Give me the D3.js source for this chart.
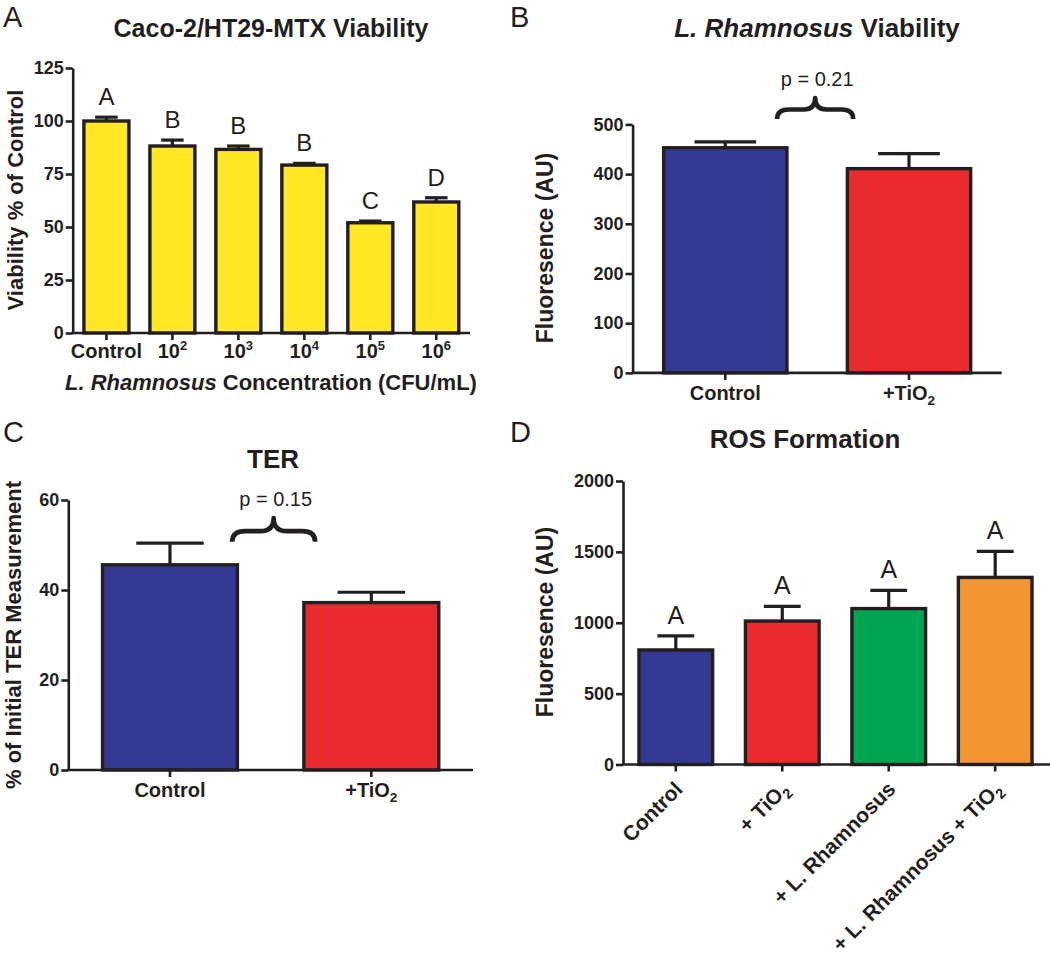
<!DOCTYPE html>
<html><head><meta charset="utf-8">
<script src="https://cdn.jsdelivr.net/npm/d3@7"></script>
<style>body{margin:0;background:#fff} svg{display:block}</style>
</head><body><svg id="chart" width="1050" height="956"></svg>
<script>
// ---------- DATA ----------
const aCategories = ["Control", "10^2", "10^3", "10^4", "10^5", "10^6"];
const aTickBase = ["Control", "10", "10", "10", "10", "10"];
const aTickSup = ["", "2", "3", "4", "5", "6"];
const aMeans = [100, 88.2, 86.6, 79.2, 52.0, 61.8];
const aErrors = [1.8, 2.8, 1.6, 0.8, 0.8, 2.0];
const aLetters = ["A", "B", "B", "B", "C", "D"];
const aTicks = [0, 25, 50, 75, 100, 125];

const bCategories = ["Control", "+TiO2"];
const bMeans = [453, 411];
const bErrors = [12, 30];
const bTicks = [0, 100, 200, 300, 400, 500];
const bPValue = "p = 0.21";
const bBrace = [511, 553, 577]; // brace ends, brace tip, label baseline (data units)

const cCategories = ["Control", "+TiO2"];
const cMeans = [45.6, 37.2];
const cErrors = [4.8, 2.3];
const cTicks = [0, 20, 40, 60];
const cPValue = "p = 0.15";
const cBrace = [50.7, 56, 58.7];

const dCategories = ["Control", "+ TiO2", "+ L. Rhamnosus", "+ L. Rhamnosus + TiO2"];
const dMeans = [808, 1012, 1100, 1320];
const dErrors = [100, 103, 128, 183];
const dLetters = ["A", "A", "A", "A"];
const dTicks = [0, 500, 1000, 1500, 2000];

const INK = "#231f20";
const FONT = "'Liberation Sans', Arial, sans-serif";

const svg = d3.select("#chart");

// write a label, turning "TiO2" into TiO with subscript 2
function chemText(sel, str, size) {
  const parts = str.split("TiO2");
  parts.forEach((p, i) => {
    if (p) sel.append("tspan").text(p);
    if (i < parts.length - 1) {
      sel.append("tspan").text("TiO");
      sel.append("tspan").attr("font-size", size * 0.68).attr("dy", size * 0.25).text("2");
      sel.append("tspan").attr("dy", -size * 0.25).text("");
    }
  });
}

function panel(o) {
  const g = svg.append("g");
  const x = d3.scaleBand().domain(o.categories).range(o.xRange)
    .paddingInner(o.pi).paddingOuter(o.po);
  const y = d3.scaleLinear().domain([0, o.ticks[o.ticks.length - 1]]).range(o.yRange);
  const bw = x.bandwidth();
  const cx = c => x(c) + bw / 2;

  // error bars (upper only)
  const eb = g.append("g").attr("stroke", INK).attr("stroke-width", 3.2).attr("fill", "none");
  o.categories.forEach((c, i) => {
    const top = y(o.means[i] + o.errors[i]);
    eb.append("line").attr("x1", cx(c)).attr("x2", cx(c)).attr("y1", y(o.means[i])).attr("y2", top);
    eb.append("line").attr("x1", cx(c) - bw / 4).attr("x2", cx(c) + bw / 4).attr("y1", top).attr("y2", top);
  });

  // bars
  g.selectAll("rect.bar").data(o.means).join("rect").attr("class", "bar")
    .attr("x", (d, i) => x(o.categories[i]))
    .attr("y", d => y(d))
    .attr("width", bw)
    .attr("height", d => y(0) - y(d))
    .attr("fill", (d, i) => o.colors[i % o.colors.length])
    .attr("stroke", INK).attr("stroke-width", 3.4);

  // y axis
  const ya = g.append("g").attr("transform", `translate(${o.xRange[0]},0)`)
    .call(d3.axisLeft(y).tickValues(o.ticks).tickFormat(d3.format("d"))
      .tickSize(7).tickSizeOuter(0).tickPadding(2));
  ya.select(".domain").attr("stroke", INK).attr("stroke-width", 2.6);
  ya.selectAll(".tick line").attr("stroke", INK).attr("stroke-width", 2.6);
  ya.selectAll(".tick text").attr("font-family", FONT).attr("font-weight", "bold")
    .attr("font-size", 18).attr("fill", INK);

  // x axis
  const xa = g.append("g").attr("transform", `translate(0,${y(0)})`)
    .call(d3.axisBottom(x).tickSize(7).tickSizeOuter(0).tickFormat(() => ""));
  xa.select(".domain").remove();
  xa.selectAll(".tick line").attr("stroke", INK).attr("stroke-width", 2.6);
  g.append("line").attr("x1", o.xRange[0] - 1).attr("x2", o.axisEnd)
    .attr("y1", y(0)).attr("y2", y(0)).attr("stroke", INK).attr("stroke-width", 2.6);

  // letters
  if (o.letters) {
    o.categories.forEach((c, i) => {
      g.append("text").attr("x", cx(c)).attr("y", y(o.means[i] + o.errors[i]) - 12)
        .attr("text-anchor", "middle").attr("font-family", FONT).attr("font-size", o.letterSize)
        .attr("fill", INK).text(o.letters[i]);
    });
  }

  // brace + p value
  if (o.brace) {
    const mx = (cx(o.categories[0]) + cx(o.categories[1])) / 2 + o.braceShift;
    const yb = y(o.brace[0]), yt = y(o.brace[1]);
    const h = yb - yt, ym = yt + h * 0.55, w = o.braceW;
    const x0 = mx - w / 2, x1 = mx + w / 2, r = h * 0.55;
    const d = `M${x0},${yb} Q${x0},${ym} ${x0 + r},${ym} L${mx - r},${ym} Q${mx},${ym} ${mx},${yt}` +
              ` Q${mx},${ym} ${mx + r},${ym} L${x1 - r},${ym} Q${x1},${ym} ${x1},${yb}`;
    g.append("path").attr("d", d).attr("fill", "none").attr("stroke", INK)
      .attr("stroke-width", 4.6).attr("stroke-linejoin", "round");
    g.append("text").attr("x", mx + 2).attr("y", y(o.brace[2])).attr("text-anchor", "middle")
      .attr("font-family", FONT).attr("font-size", 20).attr("fill", INK).text(o.pValue);
  }
  return { g, x, y, cx };
}

function panelLetter(t, px, py) {
  svg.append("text").attr("x", px).attr("y", py).attr("font-family", FONT)
    .attr("font-size", 29).attr("fill", INK).text(t);
}

function yLabel(str, px, py, size) {
  return svg.append("text").attr("transform", `translate(${px},${py}) rotate(-90)`)
    .attr("text-anchor", "middle").attr("font-family", FONT).attr("font-weight", "bold")
    .attr("font-size", size).attr("fill", INK).text(str);
}

function title(px, py, size, italicPart, rest) {
  const t = svg.append("text").attr("x", px).attr("y", py).attr("text-anchor", "middle")
    .attr("font-family", FONT).attr("font-weight", "bold").attr("font-size", size).attr("fill", INK);
  if (italicPart) t.append("tspan").attr("font-style", "italic").text(italicPart);
  t.append("tspan").text(rest);
  return t;
}

// ---------- PANEL A ----------
const A = panel({
  categories: aCategories, means: aMeans, errors: aErrors, ticks: aTicks,
  xRange: [72.7, 470], axisEnd: 470, yRange: [333, 68], pi: 0.318, po: 0.17,
  colors: ["#ffe927"], letters: aLetters, letterSize: 24
});
aCategories.forEach((c, i) => {
  const t = A.g.append("text").attr("x", A.cx(c)).attr("y", 358).attr("text-anchor", "middle")
    .attr("font-family", FONT).attr("font-weight", "bold").attr("font-size", 20).attr("fill", INK);
  t.append("tspan").text(aTickBase[i]);
  if (aTickSup[i]) t.append("tspan").attr("font-size", 13).attr("dy", -8).text(aTickSup[i]);
});
title(271, 37, 25, null, "Caco-2/HT29-MTX Viability");
title(271, 390, 22, "L. Rhamnosus", " Concentration (CFU/mL)");
yLabel("Viability % of Control", 23, 200, 22);
panelLetter("A", 3, 27);

// ---------- PANEL B ----------
const B = panel({
  categories: bCategories, means: bMeans, errors: bErrors, ticks: bTicks,
  xRange: [632.6, 1001.7], axisEnd: 1001.7, yRange: [372.9, 124.4], pi: 0.329, po: 0.169,
  colors: ["#343a94", "#e92b30"], brace: bBrace, pValue: bPValue, braceW: 76, braceShift: -2
});
bCategories.forEach(c => {
  const t = B.g.append("text").attr("x", B.cx(c)).attr("y", 400).attr("text-anchor", "middle")
    .attr("font-family", FONT).attr("font-weight", "bold").attr("font-size", 20).attr("fill", INK);
  chemText(t, c, 20);
});
title(817, 37, 26, "L. Rhamnosus", " Viability");
yLabel("Fluoresence (AU)", 553, 248, 23);
panelLetter("B", 510, 27);

// ---------- PANEL C ----------
const C = panel({
  categories: cCategories, means: cMeans, errors: cErrors, ticks: cTicks,
  xRange: [68.3, 473], axisEnd: 473, yRange: [770, 500], pi: 0.33, po: 0.17,
  colors: ["#343a94", "#e92b30"], brace: cBrace, pValue: cPValue, braceW: 83, braceShift: 3
});
cCategories.forEach(c => {
  const t = C.g.append("text").attr("x", C.cx(c)).attr("y", 797).attr("text-anchor", "middle")
    .attr("font-family", FONT).attr("font-weight", "bold").attr("font-size", 20).attr("fill", INK);
  chemText(t, c, 20);
});
title(273, 468, 26, null, "TER");
yLabel("% of Initial TER Measurement", 21, 635, 22);
panelLetter("C", 3, 442);

// ---------- PANEL D ----------
const D = panel({
  categories: dCategories, means: dMeans, errors: dErrors, ticks: dTicks,
  xRange: [623, 1048], axisEnd: 1050, yRange: [764.5, 481], pi: 0.308, po: 0.15,
  colors: ["#343a94", "#e92b30", "#00a651", "#f39531"], letters: dLetters, letterSize: 25
});
dCategories.forEach(c => {
  const t = D.g.append("text")
    .attr("transform", `translate(${D.cx(c) + 8},${D.y(0) + 26}) rotate(-45)`)
    .attr("text-anchor", "end")
    .attr("font-family", FONT).attr("font-weight", "bold").attr("font-size", 21).attr("fill", INK);
  chemText(t, c, 21);
});
title(805, 448, 26, null, "ROS Formation");
yLabel("Fluoresence (AU)", 553, 622, 23);
panelLetter("D", 510, 442);
</script>
</body></html>
